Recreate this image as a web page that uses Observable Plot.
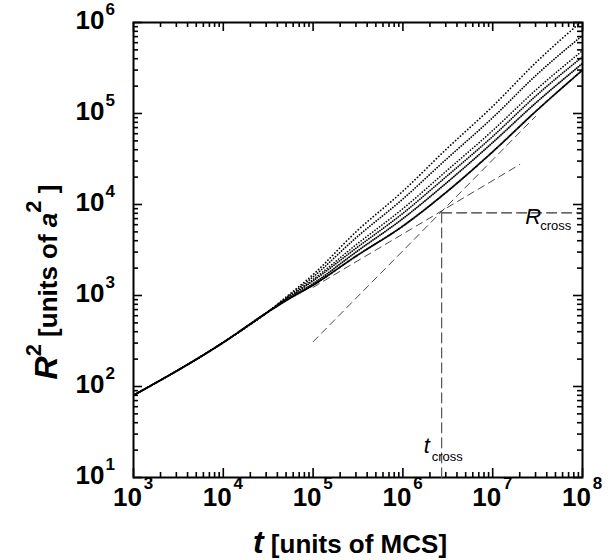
<!DOCTYPE html>
<html><head><meta charset="utf-8">
<script src="https://cdn.jsdelivr.net/npm/d3@7"></script>
<script src="https://cdn.jsdelivr.net/npm/@observablehq/plot@0.6"></script>
<style>body{margin:0;background:#fff;}</style>
</head><body><div id="chart"></div>
<script>
// time points (MCS) at which the curves were read
const times = [1e3, 1e4, 3e4, 5e4, 1e5, 3e5, 1e6, 3e6, 1e7, 3e7, 1e8];
// R^2 values (units of a^2) of the six simulation runs
const run1 = [80, 305, 640, 960, 1700, 5000, 14000, 40000, 120000, 360000, 1050000];
const run2 = [80, 305, 640, 940, 1600, 4300, 11500, 31000, 90000, 260000, 720000];
const run3 = [80, 305, 640, 920, 1500, 3600, 9000, 23000, 65000, 180000, 490000];
const run4 = [80, 305, 640, 905, 1450, 3300, 8000, 20000, 56000, 155000, 420000];
const run5 = [80, 305, 640, 890, 1350, 3000, 7000, 17000, 48000, 130000, 355000];
const run6 = [80, 305, 640, 880, 1300, 2700, 5800, 13500, 38000, 105000, 300000];
// asymptotic fit lines (end points)
const earlyFitT = [1e5, 2e7];
const earlyFitR = [1230, 27500];
const lateFitT = [1e5, 3e7];
const lateFitR = [310, 93000];
// crossover point
const tCross = 2.7e6;
const rCross = 8100;
// axis ticks
const xTickValues = [1e3, 1e4, 1e5, 1e6, 1e7, 1e8];
const xTickExps = ["3", "4", "5", "6", "7", "8"];
const yTickValues = [1e1, 1e2, 1e3, 1e4, 1e5, 1e6];
const yTickExps = ["1", "2", "3", "4", "5", "6"];

const minorOf = (decades) => decades.slice(0, -1).flatMap(d => d3.range(2, 10).map(k => d * k));
const xMinor = minorOf(xTickValues);
const yMinor = minorOf(yTickValues);

const W = 615, H = 560, ML = 133, MR = 33, MT = 22, MB = 83;
const FW = W - ML - MR, FH = H - MT - MB;
const xDomain = [1e3, 1e8], yDomain = [10, 1e6];

const runs = [run1, run2, run3, run4, run5, run6];
const runStyles = [
  {w: 1.7, dash: "0.1 3.2"},
  {w: 1.7, dash: "0.1 2.6"},
  {w: 1.6, dash: "0.1 2.8"},
  {w: 1.7, dash: "0.1 2.2"},
  {w: 1.8, dash: "0.1 2.0"},
  {w: 2.0, dash: "0.1 1.8"}
];
const runMarks = runs.map((r, i) => Plot.line(times.map((t, j) => ({t, r2: r[j]})), {
  x: "t", y: "r2", stroke: "black", strokeWidth: runStyles[i].w,
  strokeDasharray: runStyles[i].dash, strokeLinecap: "round", curve: "monotone-x", clip: true
}));

const seg = (T, R) => T.map((t, j) => ({t, r2: R[j]}));
const fontFam = "'Liberation Sans', Arial, Helvetica, sans-serif";
const tk = {stroke: "black", strokeWidth: 1.6};

const svg = Plot.plot({
  width: W, height: H,
  marginLeft: ML, marginRight: MR, marginTop: MT, marginBottom: MB,
  x: {type: "log", domain: xDomain, axis: null},
  y: {type: "log", domain: yDomain, axis: null},
  style: {fontFamily: fontFam, color: "black", background: "white"},
  marks: [
    Plot.frame({stroke: "black", strokeWidth: 2}),
    // inward ticks on all four sides
    Plot.tickX(xTickValues, {x: d => d, insetTop: FH - 9, ...tk}),
    Plot.tickX(xMinor, {x: d => d, insetTop: FH - 5, ...tk}),
    Plot.tickX(xTickValues, {x: d => d, insetBottom: FH - 9, ...tk}),
    Plot.tickX(xMinor, {x: d => d, insetBottom: FH - 5, ...tk}),
    Plot.tickY(yTickValues, {y: d => d, insetRight: FW - 9, ...tk}),
    Plot.tickY(yMinor, {y: d => d, insetRight: FW - 5, ...tk}),
    Plot.tickY(yTickValues, {y: d => d, insetLeft: FW - 9, ...tk}),
    Plot.tickY(yMinor, {y: d => d, insetLeft: FW - 5, ...tk}),
    // tick labels 10^n
    Plot.text(xTickValues, {x: d => d, frameAnchor: "bottom", text: () => "10", dx: -6, dy: 28, fontSize: 26, fontWeight: "bold"}),
    Plot.text(xTickValues, {x: d => d, frameAnchor: "bottom", text: (d, i) => xTickExps[i], dx: 15, dy: 11, fontSize: 17, fontWeight: "bold"}),
    Plot.text(yTickValues, {y: d => d, frameAnchor: "left", text: () => "10", textAnchor: "end", dx: -29, dy: -2, fontSize: 26, fontWeight: "bold"}),
    Plot.text(yTickValues, {y: d => d, frameAnchor: "left", text: (d, i) => yTickExps[i], textAnchor: "start", dx: -28, dy: -13, fontSize: 17, fontWeight: "bold"}),
    // fit lines
    Plot.line(seg(earlyFitT, earlyFitR), {x: "t", y: "r2", stroke: "#333", strokeWidth: 0.9, strokeDasharray: "7 5"}),
    Plot.line(seg(lateFitT, lateFitR), {x: "t", y: "r2", stroke: "#333", strokeWidth: 0.9, strokeDasharray: "7 5"}),
    // crossover guides
    Plot.line(seg([tCross, 1e8], [rCross, rCross]), {x: "t", y: "r2", stroke: "#333", strokeWidth: 1.2, strokeDasharray: "10 5"}),
    Plot.line(seg([tCross, tCross], [rCross, 10]), {x: "t", y: "r2", stroke: "#555", strokeWidth: 1.2, strokeDasharray: "10 5"}),
    ...runMarks,
    // labels
    Plot.text([{t: 2.3e7, r2: rCross}], {x: "t", y: "r2", text: () => "R", textAnchor: "start", dy: 4, fontSize: 22, fontStyle: "italic", fill: "black"}),
    Plot.text([{t: 2.3e7, r2: rCross}], {x: "t", y: "r2", text: () => "cross", textAnchor: "start", dx: 15, dy: 13, fontSize: 13, fill: "black"}),
    Plot.text([{t: tCross, r2: 10}], {x: "t", y: "r2", text: () => "t", textAnchor: "start", dx: -18, dy: -32, fontSize: 22, fontStyle: "italic", fill: "black"}),
    Plot.text([{t: tCross, r2: 10}], {x: "t", y: "r2", text: () => "cross", textAnchor: "start", dx: -10, dy: -21, fontSize: 13, fill: "black"})
  ]
});

// axis titles with superscripts
const NS = "http://www.w3.org/2000/svg";
function addTitle(x, y, rotate, parts) {
  const t = document.createElementNS(NS, "text");
  t.setAttribute("transform", `translate(${x},${y})` + (rotate ? ` rotate(${rotate})` : ""));
  t.setAttribute("text-anchor", "middle");
  t.setAttribute("font-family", fontFam);
  t.setAttribute("font-weight", "bold");
  t.setAttribute("fill", "black");
  for (const p of parts) {
    const s = document.createElementNS(NS, "tspan");
    s.textContent = p.text;
    s.setAttribute("font-size", p.size);
    if (p.italic) s.setAttribute("font-style", "italic");
    if (p.dy) s.setAttribute("dy", p.dy);
    t.appendChild(s);
  }
  svg.appendChild(t);
}
addTitle(57, 282, -90, [
  {text: "R", size: 32, italic: true},
  {text: "2", size: 22, dy: -16},
  {text: " [units of ", size: 26, dy: 16},
  {text: "a", size: 26, italic: true},
  {text: "2", size: 22, dy: -16},
  {text: " ]", size: 26, dy: 16}
]);
addTitle(350, 553, 0, [
  {text: "t", size: 32, italic: true},
  {text: " [units of MCS]", size: 26}
]);

document.getElementById("chart").appendChild(svg);
</script>
</body></html>
